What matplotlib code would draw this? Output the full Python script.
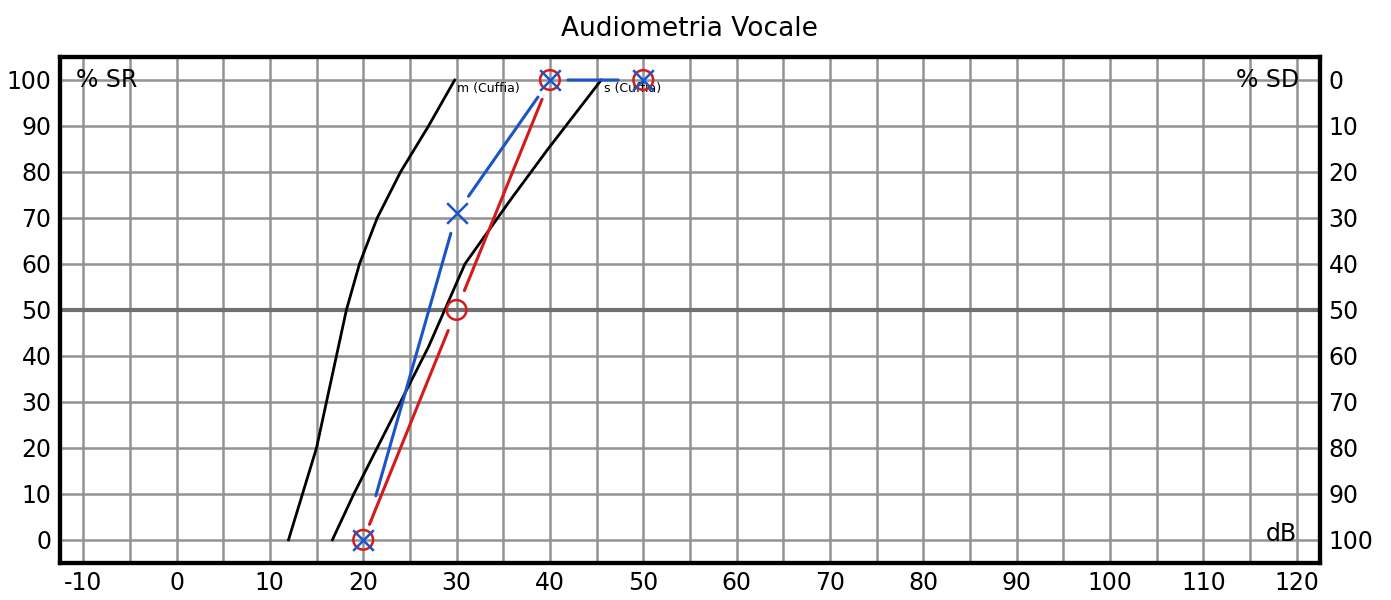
import numpy as np
import matplotlib
matplotlib.use("Agg")
import matplotlib.pyplot as plt
from matplotlib.patches import FancyArrowPatch

plt.rcParams['axes.unicode_minus'] = False

# reference curves (cuffia)
m_x = [12.0, 15.0, 18.2, 19.6, 21.5, 24.0, 27.0, 29.8]
m_y = [0, 20, 50, 60, 70, 80, 90, 100]
s_x = [16.7, 19.0, 24.0, 27.0, 30.9, 35.8, 39.8, 45.5]
s_y = [0, 10, 30, 42, 60, 74, 85, 100]

# measured points
red_x = [20, 30, 40]
red_y = [0, 50, 100]
blue_x = [20, 30, 40, 50]
blue_y = [0, 71, 100, 100]
circle_x = [20, 30, 40, 50]
circle_y = [0, 50, 100, 100]

x_ticks = list(range(-10, 121, 10))
y_ticks = list(range(0, 101, 10))

RED = '#d41a1a'
BLUE = '#1a55c8'
GRID = '#939393'

fig = plt.figure(figsize=(13.91, 6.0), dpi=100)
ax = fig.add_axes([0.043, 0.062, 0.906, 0.843])
ax.set_xlim(-12.5, 122.5)
ax.set_ylim(-5, 105)

for gx in np.arange(-10, 121, 5):
    ax.axvline(gx, color=GRID, lw=1.8, zorder=0)
for gy in y_ticks:
    ax.axhline(gy, color=GRID, lw=1.8, zorder=0)
ax.axhline(50, color='#707070', lw=3, zorder=1)

ax.set_xticks(x_ticks)
ax.set_yticks(y_ticks)
ax.tick_params(length=0, labelsize=17, pad=6)
for sp in ax.spines.values():
    sp.set_linewidth(3)

ax2 = ax.twinx()
ax2.set_ylim(105, -5)
ax2.set_yticks(y_ticks)
ax2.tick_params(length=0, labelsize=17, pad=6)
for sp in ax2.spines.values():
    sp.set_linewidth(3)

ax.plot(m_x, m_y, color='black', lw=2, zorder=3)
ax.plot(s_x, s_y, color='black', lw=2, zorder=3)
ax.text(m_x[-1] + 0.3, m_y[-1] - 0.5, 'm (Cuffia)', fontsize=9, va='top', zorder=4)
ax.text(s_x[-1] + 0.3, s_y[-1] - 0.5, 's (Cuffia)', fontsize=9, va='top', zorder=4)


def gapped(xs, ys, color, gaps_a, gaps_b):
    # segments stop short of the markers, like the original printout
    for i in range(len(xs) - 1):
        seg = FancyArrowPatch((xs[i], ys[i]), (xs[i + 1], ys[i + 1]),
                              arrowstyle='-', color=color, lw=2.2,
                              shrinkA=gaps_a[i], shrinkB=gaps_b[i], zorder=4)
        ax.add_patch(seg)


gapped(red_x, red_y, RED, [12, 15], [16, 15])
gapped(blue_x, blue_y, BLUE, [33, 15, 13], [15, 15, 18])

ax.scatter(circle_x, circle_y, s=200, facecolors='none', edgecolors=RED,
           linewidths=1.8, zorder=5)
ax.scatter(blue_x, blue_y, s=220, marker='x', color=BLUE, linewidths=1.8, zorder=6)

ax.text(-10.8, 100, '% SR', fontsize=17, va='center', ha='left', zorder=4)
ax.text(120.3, 100, '% SD', fontsize=17, va='center', ha='right', zorder=4)
ax.text(120.0, 1.2, 'dB', fontsize=17, va='center', ha='right', zorder=4)

ax.set_title('Audiometria Vocale', fontsize=19, pad=15)

fig.savefig('out.png', dpi=100)
